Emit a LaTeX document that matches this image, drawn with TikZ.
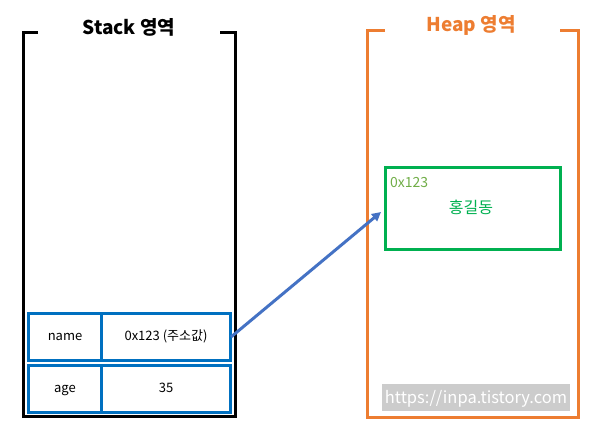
\documentclass[tikz,border=0pt]{standalone}
\usepackage{fontspec}
\setmainfont{Noto Sans CJK KR}
\usetikzlibrary{arrows.meta}
\definecolor{stackblue}{HTML}{0070C0}
\definecolor{heaporange}{HTML}{ED7D31}
\definecolor{objgreen}{HTML}{00B050}
\definecolor{addrgreen}{HTML}{70AD47}
\definecolor{arrowblue}{HTML}{4472C4}
\definecolor{wmgray}{HTML}{CCCCCC}
\tikzset{
  arealine/.style={line width=3pt},
  cell/.style={draw=stackblue, line width=3pt, inner sep=0pt},
  celltext/.style={font=\fontsize{13}{15}\selectfont, text=black, anchor=base, inner sep=0pt},
  title/.style={font=\fontsize{19}{22}\selectfont\bfseries, anchor=base, inner sep=0pt},
}
\begin{document}
\begin{tikzpicture}[x=1pt,y=-1pt]
\useasboundingbox (0,0) rectangle (589,430);
% Stack area
\draw[arealine, black] (38,33) -- (23.5,33) -- (23.5,416.5) -- (235,416.5) -- (235,33) -- (220,33);
\node[title, text=black] (stacktitle) at (129,35) {Stack 영역};
% Heap area
\draw[arealine, heaporange] (385,30.5) -- (367,30.5) -- (367,417.5) -- (578,417.5) -- (578,30.5) -- (560,30.5);
\node[title, text=heaporange] (heaptitle) at (471,32) {Heap 영역};
% Stack cells
\draw[cell] (28.5,313.5) rectangle (230,360);
\draw[cell] (101.5,313.5) -- (101.5,360);
\draw[cell] (28.5,365.5) rectangle (230,412);
\draw[cell] (101.5,365.5) -- (101.5,412);
\node[celltext] (namekey) at (65,341) {name};
\node[celltext] (nameval) at (166,341) {0x123 (주소값)};
\node[celltext] (agekey) at (65,392) {age};
\node[celltext] (ageval) at (166,392) {35};
\coordinate (namecell) at (231,337);
% Heap object
\node[draw=objgreen, line width=3pt, minimum width=175pt, minimum height=82pt, inner sep=0pt] (obj) at (472.5,209) {};
\node[font=\fontsize{14}{16}\selectfont, text=addrgreen, anchor=base west, inner sep=0pt] (addr) at (390,188) {0x123};
\node[font=\fontsize{16}{19}\selectfont, text=objgreen, anchor=base, inner sep=0pt] (objname) at (471,214) {홍길동};
% Arrow
\coordinate (arrowend) at (381,212);
\draw[arrowblue, line width=3pt, -{Triangle[length=9pt,width=9pt]}] (namecell) -- (arrowend);
% watermark
\fill[wmgray] (382,384) rectangle (570,411);
\node[font=\fontsize{16.5}{19}\selectfont, text=white, anchor=base, inner sep=0pt] (wm) at (476,403) {https://inpa.tistory.com};
\end{tikzpicture}
\end{document}
